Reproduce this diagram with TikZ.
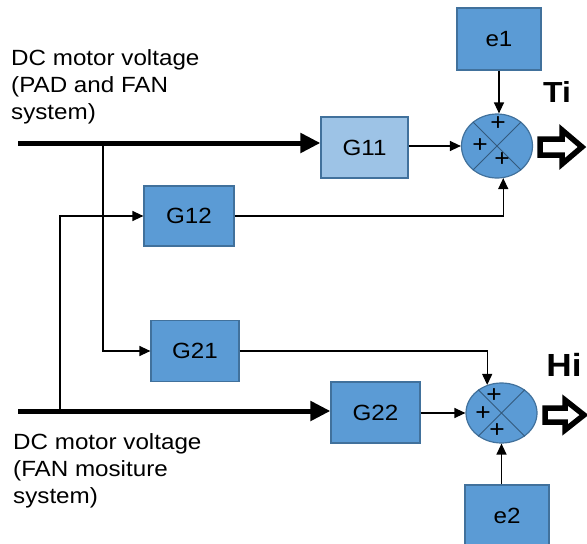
\documentclass[tikz,border=0pt]{standalone}
\usepackage{fontspec}
\setmainfont{Liberation Sans}[FakeStretch=1.1]
\usetikzlibrary{shapes.geometric,arrows.meta}
\definecolor{boxblue}{HTML}{5B9BD5}
\definecolor{lightblue}{HTML}{9DC3E6}
\definecolor{edgeblue}{HTML}{41719C}
\begin{document}
\begin{tikzpicture}[x=1pt,y=-1pt,
  blk/.style={draw=edgeblue, line width=1.2pt, fill=boxblue, inner sep=0pt,
    minimum width=86pt, minimum height=61pt, font=\fontsize{22}{26}\selectfont},
  sumnode/.style={ellipse, draw=edgeblue, line width=1.2pt, fill=boxblue, inner sep=0pt,
    minimum width=71pt, minimum height=64pt},
  xline/.style={draw=edgeblue!80!black, line width=0.9pt},
  plus/.style={font=\fontsize{24}{24}\selectfont, inner sep=0pt, text height=13pt, text depth=0pt},
  thin/.style={line width=1.3pt, -{Triangle[length=11pt,width=10pt]}},
  thick/.style={line width=5pt, -{Triangle[length=20pt,width=19pt]}},
  lbl/.style={align=left, inner sep=0pt, anchor=north west, font=\fontsize{22}{27}\selectfont},
  outlbl/.style={font=\bfseries\fontsize{29}{29}\selectfont, inner sep=0pt},
  hollow/.style={draw=black, fill=white, line width=5.5pt, line join=miter}
]
\useasboundingbox (0,0) rectangle (587,544);

% blocks
\node[blk, minimum width=84pt, minimum height=62pt] (e1) at (499,39) {e1};
\node[blk, fill=lightblue, minimum width=87pt] (G11) at (364.5,147.5) {G11};
\node[blk, minimum width=90pt, minimum height=60pt] (G12) at (189,216) {G12};
\node[blk, minimum width=88pt] (G21) at (195,351) {G21};
\node[blk, minimum width=89pt] (G22) at (375.5,412.5) {G22};
\node[blk, minimum width=84pt] (e2) at (507,515.5) {e2};

% summing junctions
\node[sumnode] (s1) at (497,146) {};
\node[sumnode, minimum height=60pt] (s2) at (501.5,413) {};
\draw[xline] (s1.45) -- (s1.225) (s1.135) -- (s1.315);
\draw[xline] (s2.45) -- (s2.225) (s2.135) -- (s2.315);

% inputs
\coordinate (in1) at (18,143);
\coordinate (in2) at (18,411);
\coordinate (b1) at (103,143);
\coordinate (b2) at (60,411);
\draw[thick] (in1) -- (in1 -| G11.west);
\draw[thick] (in2) -- (in2 -| G22.west);
\draw[thin] (b1) |- (G21.west);
\draw[thin] (b2) |- (G12.west);

% block outputs to sums
\draw[thin] (G11.east |- s1) -- (s1.west);
\draw[thin] (G12.east) -| (s1.-79);
\draw[thin] (e1.south) -- (e1.south |- s1.north);
\draw[thin] (G21.east) -| (s2.117);
\draw[thin] (G22.east |- s2) -- (s2.west);
\draw[thin] (e2.north -| s2.south) -- (s2.south);

% signs
\node[plus] (p1a) at (498,124) {+};
\node[plus] (p1b) at (480,146) {+};
\node[plus] (p1c) at (502,160) {+};
\node[plus] (p2a) at (494,396) {+};
\node[plus] (p2b) at (483,414) {+};
\node[plus] (p2c) at (497,431) {+};

% outputs
\draw[hollow] (540,139) -- (562,139) -- (562,130) -- (582,147) -- (562,164) -- (562,155) -- (540,155) -- cycle;
\draw[hollow] (545,408) -- (565,408) -- (565,400) -- (584,415) -- (565,430) -- (565,422) -- (545,422) -- cycle;
\node[outlbl] (Ti) at (557,92) {Ti};
\node[outlbl, font=\bfseries\fontsize{32}{32}\selectfont] (Hi) at (564,365) {Hi};

% labels
\node[lbl] (l1) at (11,49) {DC motor voltage\\(PAD and FAN\\system)};
\node[lbl] (l2) at (13,433) {DC motor voltage\\(FAN mositure\\system)};
\end{tikzpicture}
\end{document}
